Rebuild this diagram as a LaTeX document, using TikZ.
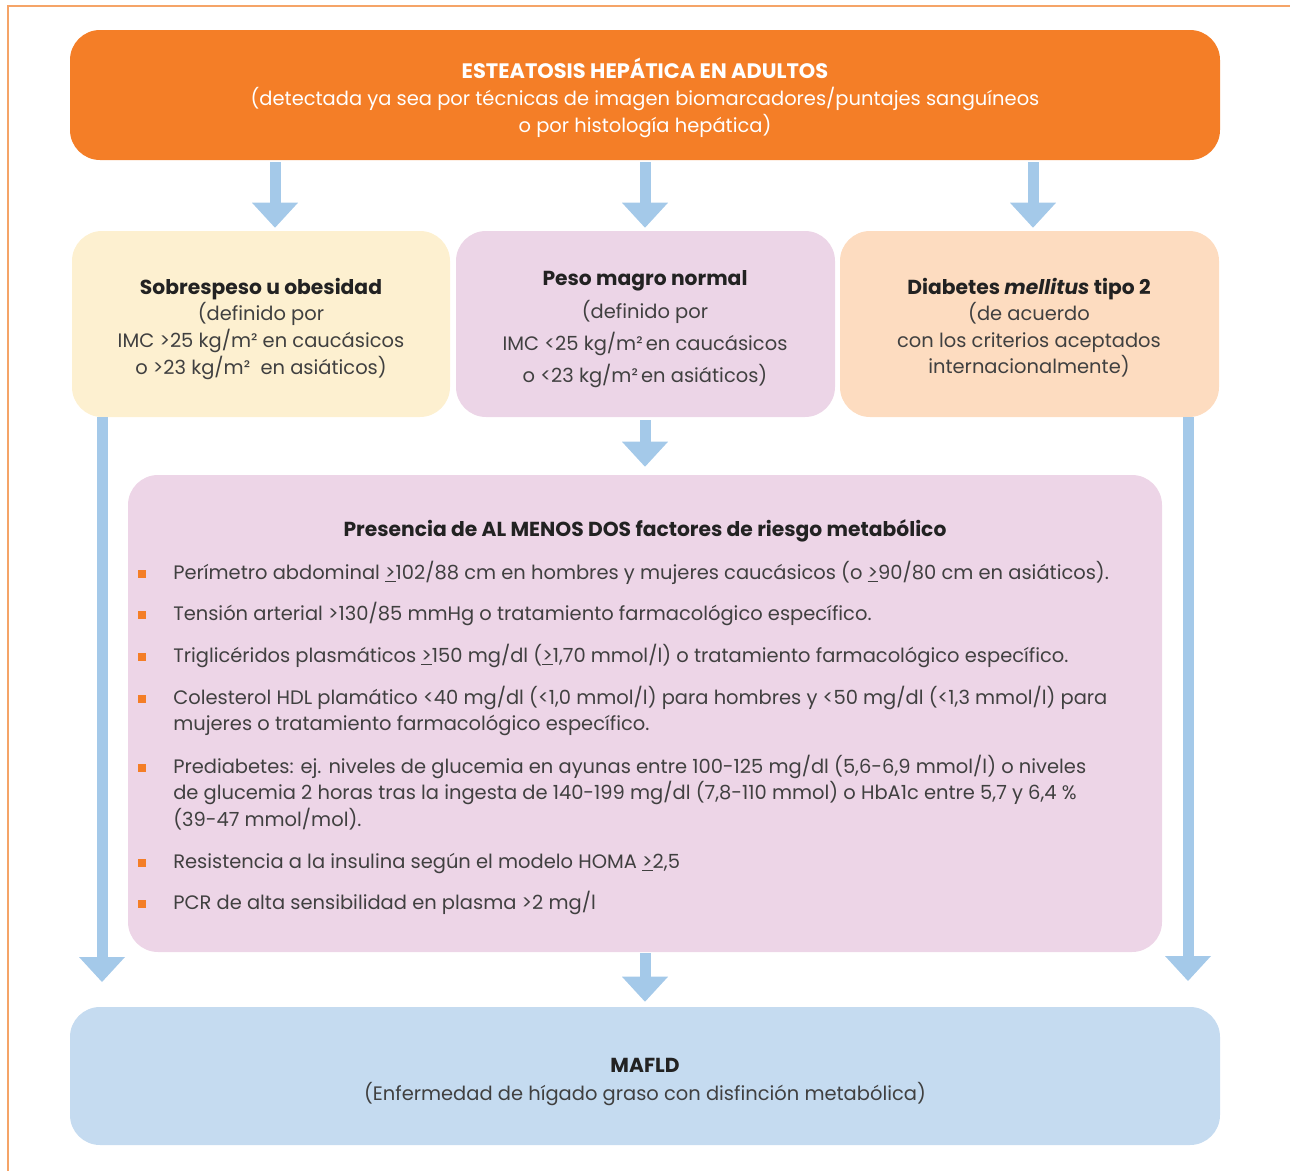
\documentclass[tikz,border=0pt]{standalone}
\usepackage{fontspec}
\setmainfont{Poppins}
\usetikzlibrary{arrows.meta}

\definecolor{headorange}{HTML}{F47E27}
\definecolor{framecol}{HTML}{F5A468}
\definecolor{obesefill}{HTML}{FDF0D0}
\definecolor{leanfill}{HTML}{ECD5E7}
\definecolor{diabfill}{HTML}{FDDCC0}
\definecolor{riskfill}{HTML}{EDD5E7}
\definecolor{maffill}{HTML}{C5DBF0}
\definecolor{arrowblue}{HTML}{A4C9E9}
\definecolor{bodytext}{HTML}{404040}
\definecolor{titletext}{HTML}{222222}

\newcommand{\gequnder}{\underline{>}}
\newcommand{\bodysize}{\fontsize{14.6pt}{17pt}\selectfont}
\newcommand{\headsize}{\fontsize{15.2pt}{17pt}\selectfont}

\begin{document}
\begin{tikzpicture}[x=0.75pt,y=-0.75pt,
  box/.style={rectangle, rounded corners=22.5pt, inner sep=0pt, draw=none},
  fat/.style={draw=arrowblue, line width=8.25pt,
    -{Triangle[width=34.5pt,length=18.75pt,line width=0pt]}},
  txt/.style={anchor=base, inner sep=0pt, text=bodytext, font=\bodysize},
  ttl/.style={txt, text=titletext, font=\headsize\bfseries},
  headtxt/.style={anchor=base, inner sep=0pt, text=white, font=\bodysize},
  item/.style={anchor=base west, inner sep=0pt, text=bodytext, font=\bodysize},
  dot/.style={rectangle, fill=headorange, minimum size=6pt, inner sep=0pt}]

\useasboundingbox (0,0) rectangle (1290,1171);

% page frame
\draw[framecol, line width=1.2pt] (1290,6) -- (8,6) -- (8,1171);

% boxes
\node[box, fill=headorange, minimum width=862.5pt, minimum height=97.5pt] (top) at (645,95) {};
\node[box, fill=obesefill, minimum width=283.5pt, minimum height=139.5pt] (obese) at (261,324) {};
\node[box, fill=leanfill, minimum width=284.25pt, minimum height=139.5pt] (lean) at (645.5,324) {};
\node[box, fill=diabfill, minimum width=284.25pt, minimum height=139.5pt] (diab) at (1029.5,324) {};
\node[box, fill=riskfill, minimum width=775.5pt, minimum height=357.75pt] (risk) at (645,713.5) {};
\node[box, fill=maffill, minimum width=862.5pt, minimum height=103.5pt] (mafld) at (645,1076) {};

% arrow columns
\coordinate (c1) at (275,0);
\coordinate (c2) at (645,0);
\coordinate (c3) at (1033,0);
\coordinate (lend) at (102,982);
\coordinate (rend) at (1188,981);

\draw[fat] ([yshift=-1.5pt]top.south -| c1) -- ([yshift=2.25pt]obese.north -| c1);
\draw[fat] ([yshift=-1.5pt]top.south -| c2) -- ([yshift=2.25pt]lean.north -| c2);
\draw[fat] ([yshift=-1.5pt]top.south -| c3) -- ([yshift=2.25pt]diab.north -| c3);
\draw[fat] (obese.south -| lend) -- (lend);
\draw[fat] (diab.south -| rend) -- (rend);
\draw[fat] ([yshift=-2.25pt]lean.south -| c2) -- ([yshift=6pt]risk.north -| c2);
\draw[fat] ([yshift=-0.75pt]risk.south -| c2) -- ([yshift=3.75pt]mafld.north -| c2);

% header text
\node[headtxt, font=\fontsize{15.7pt}{17pt}\selectfont\bfseries] (h1) at (645,78) {ESTEATOSIS HEPÁTICA EN ADULTOS};
\node[headtxt] (h2) at (645,105) {(detectada ya sea por técnicas de imagen biomarcadores/puntajes sanguíneos};
\node[headtxt] (h3) at (645,132) {o por histología hepática)};

% overweight
\node[ttl] (o1) at (261,294) {Sobrespeso u obesidad};
\node[txt] (o2) at (261,320) {(definido por};
\node[txt] (o3) at (261,347) {IMC >25 kg/m² en caucásicos};
\node[txt] (o4) at (261,374) {o >23 kg/m²\ \ en asiáticos)};

% lean
\node[ttl] (l1) at (645,285) {Peso magro normal};
\node[txt] (l2) at (645,318) {(definido por};
\node[txt] (l3) at (645,350) {IMC <25 kg/m²\,en caucásicos};
\node[txt] (l4) at (645,382) {o <23 kg/m²\,en asiáticos)};

% diabetes
\node[ttl] (d1) at (1029,294) {Diabetes \textit{mellitus} tipo 2};
\node[txt] (d2) at (1029,320) {(de acuerdo};
\node[txt] (d3) at (1029,347) {con los criterios aceptados};
\node[txt] (d4) at (1029,373) {internacionalmente)};

% metabolic risk factors
\node[ttl] (r0) at (645,536) {Presencia de AL MENOS DOS factores de riesgo metabólico};

\foreach \yy [count=\i] in {574,615,657,699,768,863,904}
  \node[dot] (dot\i) at (141.5,\yy) {};

\node[item] (r1) at (173,579) {Perímetro abdominal \gequnder102/88 cm en hombres y mujeres caucásicos (o \gequnder90/80 cm en asiáticos).};
\node[item] (r2) at (173,620) {Tensión arterial >130/85 mmHg o tratamiento farmacológico específico.};
\node[item] (r3) at (173,662) {Triglicéridos plasmáticos \gequnder150 mg/dl (\gequnder1,70 mmol/l) o tratamiento farmacológico específico.};
\node[item] (r4a) at (173,704) {Colesterol HDL plamático <40 mg/dl (<1,0 mmol/l) para hombres y <50 mg/dl (<1,3 mmol/l) para};
\node[item] (r4b) at (173,730) {mujeres o tratamiento farmacológico específico.};
\node[item] (r5a) at (173,773) {Prediabetes: ej. niveles de glucemia en ayunas entre 100-125 mg/dl (5,6-6,9 mmol/l) o niveles};
\node[item] (r5b) at (173,799) {de glucemia 2 horas tras la ingesta de 140-199 mg/dl (7,8-110 mmol) o HbA1c entre 5,7 y 6,4 \%};
\node[item] (r5c) at (173,826) {(39-47 mmol/mol).};
\node[item] (r6) at (173,868) {Resistencia a la insulina según el modelo HOMA \gequnder2,5};
\node[item] (r7) at (173,909) {PCR de alta sensibilidad en plasma >2 mg/l};

% result
\node[ttl] (m1) at (645,1072) {MAFLD};
\node[txt] (m2) at (645,1100) {(Enfermedad de hígado graso con disfinción metabólica)};

\end{tikzpicture}
\end{document}
